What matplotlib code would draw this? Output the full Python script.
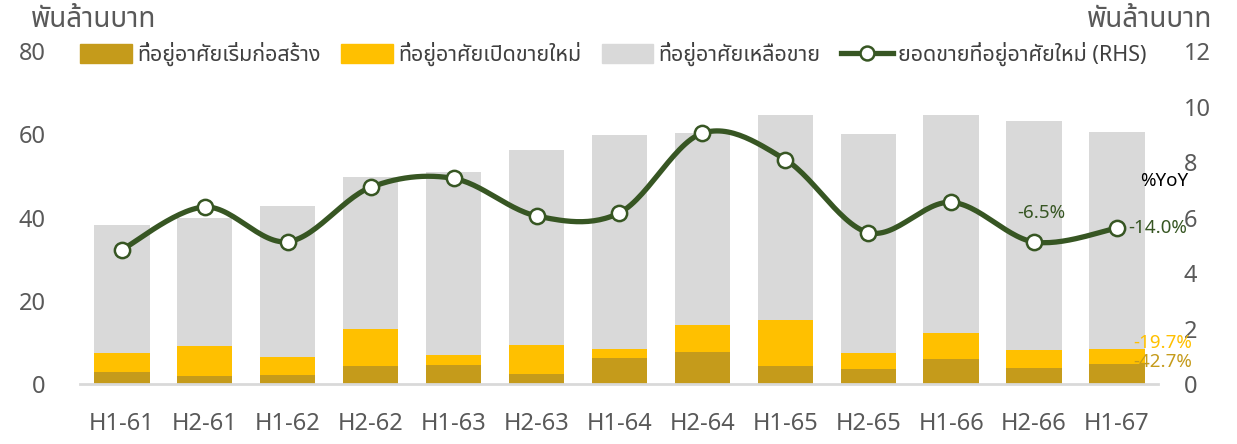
import numpy as np
import matplotlib
matplotlib.use("Agg")
import matplotlib.pyplot as plt
import matplotlib.font_manager as fm
from matplotlib.lines import Line2D
from matplotlib.patches import Patch

# ---------------- data ----------------
categories = ["H1-61", "H2-61", "H1-62", "H2-62", "H1-63", "H2-63", "H1-64",
              "H2-64", "H1-65", "H2-65", "H1-66", "H2-66", "H1-67"]
starts = [2.8, 1.9, 2.2, 4.3, 4.5, 2.4, 6.2, 7.8, 4.4, 3.7, 6.0, 3.9, 4.7]
launches = [4.7, 7.2, 4.4, 9.0, 2.6, 7.1, 2.3, 6.4, 11.0, 3.8, 6.3, 4.4, 3.7]
unsold = [30.6, 30.7, 36.1, 36.5, 43.8, 46.7, 51.3, 46.1, 49.3, 52.6, 52.3, 54.8, 52.2]
new_sales = [4.84, 6.38, 5.13, 7.09, 7.41, 6.06, 6.17, 9.04, 8.09, 5.46, 6.55, 5.12, 5.62]

series_names = ["ที่อยู่อาศัยเริ่มก่อสร้าง", "ที่อยู่อาศัยเปิดขายใหม่", "ที่อยู่อาศัยเหลือขาย",
                "ยอดขายที่อยู่อาศัยใหม่ (RHS)"]
unit_label = "พันล้านบาท"
yoy_title = "%YoY"
yoy_sales = ["-6.5%", "-14.0%"]
yoy_launch = "-19.7%"
yoy_start = "-42.7%"

# ---------------- fonts ----------------
def find_thai_font():
    try:
        from fontTools.ttLib import TTFont
    except Exception:
        return None
    prefs = ["Noto Sans Thai", "Noto Sans Thai UI", "Loma", "Garuda", "Tlwg Typo", "Sarabun"]
    found = {}
    for f in fm.fontManager.ttflist:
        try:
            tt = TTFont(f.fname, fontNumber=0, lazy=True)
            cmap = tt.getBestCmap()
            if cmap and 0x0E01 in cmap and 0x0E35 in cmap:
                found.setdefault(f.name, f)
        except Exception:
            pass
    for p in prefs:
        if p in found:
            return p
    if found:
        return sorted(found)[0]
    return None

thai = find_thai_font()
fams = ([thai] if thai else []) + ["DejaVu Sans"]
plt.rcParams["font.family"] = fams

# ---------------- colors ----------------
c_start = "#C59B1B"
c_launch = "#FFC000"
c_unsold = "#D9D9D9"
c_line = "#375623"
c_text = "#595959"

fig = plt.figure(figsize=(12.37, 4.44), dpi=100)
ax = fig.add_axes([0.065, 0.135, 0.8715, 0.75])
ax2 = ax.twinx()

x = np.arange(len(categories))
w = 0.667
s = np.array(starts)
l = np.array(launches)
u = np.array(unsold)
ax.bar(x, s, width=w, color=c_start, zorder=2)
ax.bar(x, l, width=w, bottom=s, color=c_launch, zorder=2)
ax.bar(x, u, width=w, bottom=s + l, color=c_unsold, zorder=2)

# smooth line (Excel-like Catmull-Rom)
y = np.array(new_sales)
xs, ys = [], []
n = len(y)
for i in range(n - 1):
    p0 = np.array([x[max(i - 1, 0)], y[max(i - 1, 0)]])
    p1 = np.array([x[i], y[i]])
    p2 = np.array([x[i + 1], y[i + 1]])
    p3 = np.array([x[min(i + 2, n - 1)], y[min(i + 2, n - 1)]])
    b1 = p1 + (p2 - p0) / 6.0
    b2 = p2 - (p3 - p1) / 6.0
    t = np.linspace(0, 1, 30)[:, None]
    pts = (1 - t) ** 3 * p1 + 3 * (1 - t) ** 2 * t * b1 + 3 * (1 - t) * t ** 2 * b2 + t ** 3 * p2
    xs.extend(pts[:, 0]); ys.extend(pts[:, 1])
ax2.plot(xs, ys, color=c_line, lw=3.8, solid_capstyle="round", zorder=3)
ax2.plot(x, y, ls="none", marker="o", ms=11, mfc="white", mec=c_line, mew=1.8, zorder=4)

ax.set_xlim(-0.5, len(categories) - 0.5)
ax.set_ylim(0, 80)
ax2.set_ylim(0, 12)
ax.set_yticks([0, 20, 40, 60, 80])
ax2.set_yticks([0, 2, 4, 6, 8, 10, 12])
ax.set_xticks(x)
ax.set_xticklabels(categories)

for a in (ax, ax2):
    for sp in a.spines.values():
        sp.set_visible(False)
    a.tick_params(length=0, labelsize=17, labelcolor=c_text)
ax.spines["bottom"].set_visible(True)
ax.spines["bottom"].set_color("#D9D9D9")
ax.spines["bottom"].set_linewidth(2)
ax.tick_params(axis="x", pad=20)
ax.tick_params(axis="y", pad=25)
ax2.tick_params(axis="y", pad=18)

fig.text(0.025, 0.955, unit_label, fontsize=20, color=c_text, ha="left", va="center")
fig.text(0.98, 0.955, unit_label, fontsize=20, color=c_text, ha="right", va="center")

handles = [Patch(color=c_start), Patch(color=c_launch), Patch(color=c_unsold),
           Line2D([], [], color=c_line, lw=3.8, marker="o", ms=10, mfc="white", mec=c_line, mew=1.8)]
leg = fig.legend(handles, series_names, loc="center left", bbox_to_anchor=(0.0647, 0.878),
                 ncol=4, frameon=False, fontsize=15.5, handlelength=2.4, handleheight=1.0,
                 handletextpad=0.25, columnspacing=0.95, borderpad=0, borderaxespad=0,
                 labelcolor="#404040")

ax2.annotate(yoy_sales[0], (x[-2], y[-2]), xytext=(5, 21), textcoords="offset points",
             ha="center", va="center", color=c_line, fontsize=13.5)
ax2.annotate(yoy_sales[1], (x[-1], y[-1]), xytext=(8, 0), textcoords="offset points",
             ha="left", va="center", color=c_line, fontsize=13.5)
fig.text(0.9216, 0.592, yoy_title, fontsize=13.5, color="black", ha="left", va="center")
fig.text(0.916, 0.227, yoy_launch, fontsize=13.5, color=c_launch, ha="left", va="center")
fig.text(0.916, 0.185, yoy_start, fontsize=13.5, color=c_start, ha="left", va="center")

fig.savefig("out.png", dpi=100)
